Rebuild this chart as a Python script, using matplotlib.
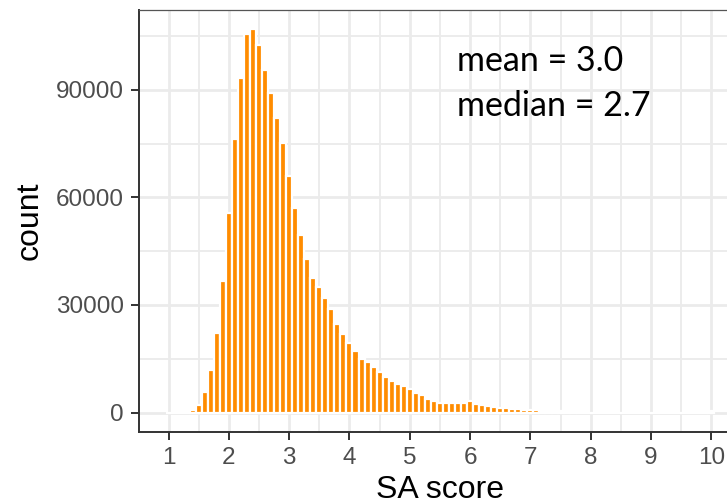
import matplotlib.pyplot as plt
import numpy as np

# SA score histogram, bin width 0.1 (bin centres)
bin_centers = np.round(np.arange(1.0, 10.01, 0.1), 1)
counts_k = {
    1.4: 0.6, 1.5: 2.2, 1.6: 5.6, 1.7: 11.9, 1.8: 22.1, 1.9: 36.6,
    2.0: 55.6, 2.1: 76.3, 2.2: 93.4, 2.3: 105.6, 2.4: 106.8, 2.5: 102.5,
    2.6: 95.6, 2.7: 89.1, 2.8: 82.0, 2.9: 75.1, 3.0: 66.0, 3.1: 56.9,
    3.2: 49.5, 3.3: 42.8, 3.4: 37.4, 3.5: 34.9, 3.6: 32.0, 3.7: 28.8,
    3.8: 24.7, 3.9: 21.8, 4.0: 19.5, 4.1: 17.1, 4.2: 14.9, 4.3: 14.0,
    4.4: 12.6, 4.5: 11.2, 4.6: 9.9, 4.7: 8.9, 4.8: 8.0, 4.9: 7.4,
    5.0: 6.5, 5.1: 5.5, 5.2: 4.8, 5.3: 3.9, 5.4: 3.3, 5.5: 2.7,
    5.6: 2.7, 5.7: 2.8, 5.8: 2.7, 5.9: 2.7, 6.0: 3.1, 6.1: 2.3,
    6.2: 2.0, 6.3: 1.8, 6.4: 1.5, 6.5: 1.3, 6.6: 1.2, 6.7: 1.0,
    6.8: 1.0, 6.9: 0.8, 7.0: 0.8, 7.1: 0.6, 7.2: 0.5, 7.3: 0.5,
    7.4: 0.4, 7.5: 0.3, 7.6: 0.25, 7.7: 0.2, 10.0: 0.5,
}
counts = np.array([counts_k.get(c, 0.0) * 1000 for c in bin_centers])

x_ticks = list(range(1, 11))
y_ticks = [0, 30000, 60000, 90000]
stats_lines = ["mean = 3.0", "median = 2.7"]

plt.rcParams['font.family'] = ['Liberation Sans', 'DejaVu Sans']

fig = plt.figure(figsize=(7.27, 5.03), dpi=100)
# panel runs past the right edge of the image, as in the reference
ax = fig.add_axes([139 / 727, 71.3 / 503, 602.5 / 727, 421.4 / 503])

ax.bar(bin_centers, counts, width=0.1, color='#FF8C00', edgecolor='white',
       linewidth=1.6, zorder=3)

ymax = counts.max()
ax.set_xlim(0.51, 10.5)
ax.set_ylim(-0.05 * ymax, 1.05 * ymax)

ax.set_xticks(x_ticks)
ax.set_yticks(y_ticks)
ax.set_xticks(np.arange(1.5, 10.6, 1.0), minor=True)
ax.set_yticks([15000, 45000, 75000, 105000], minor=True)
ax.tick_params(which='minor', length=0)
ax.tick_params(which='major', length=6, width=1.4, color='#333333',
               labelsize=17.5, labelcolor='#4D4D4D', pad=5)

ax.grid(which='major', color='#EBEBEB', linewidth=2.0, zorder=0)
ax.grid(which='minor', color='#EBEBEB', linewidth=1.3, zorder=0)
ax.set_axisbelow(True)

for side in ['left', 'bottom']:
    ax.spines[side].set_color('#333333')
    ax.spines[side].set_linewidth(1.4)
ax.spines['top'].set_color('#555555')
ax.spines['top'].set_linewidth(0.9)
ax.spines['right'].set_visible(False)

ax.set_xlabel("SA score", fontsize=23, labelpad=4)
ax.set_ylabel("count", fontsize=23, labelpad=8)

# annotation, one line at a time (baselines)
for line, y in zip(stats_lines, [95300, 82700]):
    ax.text(5.78, y, line, fontsize=24.5, family=['Lato', 'DejaVu Sans'],
            color='black', va='baseline', ha='left')

plt.savefig('out.png', dpi=100)
